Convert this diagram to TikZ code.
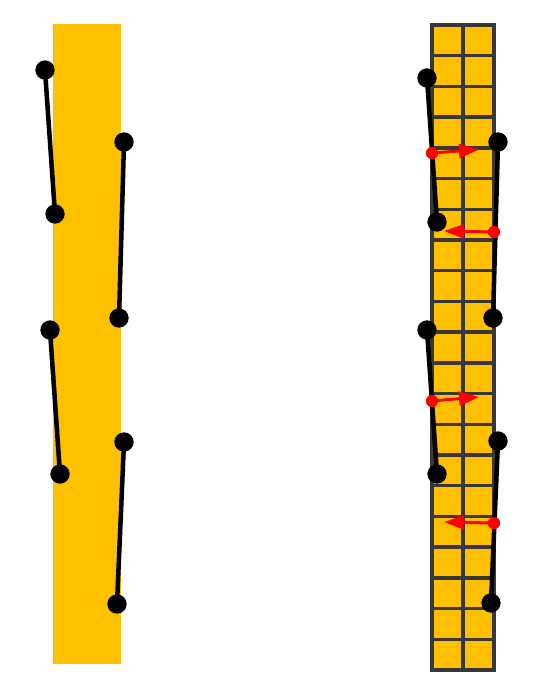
\documentclass[tikz,border=0pt]{standalone}
\usetikzlibrary{arrows.meta}
\definecolor{barorange}{HTML}{FFC000}
\definecolor{gridgray}{HTML}{383838}
\definecolor{arrred}{HTML}{FF0000}
\begin{document}
\begin{tikzpicture}[x=0.75pt,y=-0.75pt,
  bead/.style={circle,fill=black,inner sep=0pt,minimum size=14.5pt},
  rbead/.style={circle,fill=arrred,inner sep=0pt,minimum size=9pt},
  link/.style={line width=3.4pt,black},
  force/.style={line width=2.2pt,arrred,-{Triangle[length=15pt,width=10.5pt]}},
  gridline/.style={line width=2.5pt,gridgray}]
\useasboundingbox (0,0) rectangle (558,690);
% left bar
\fill[barorange] (53,24) rectangle (121,664);
% right gridded bar
\fill[barorange] (432,25) rectangle (494,670);
\foreach \i in {1,...,20} {
  \draw[gridline] (432,25+\i*30.714) -- (494,25+\i*30.714);
}
\draw[gridline] (463,25) -- (463,670);
\draw[gridline] (432,25) rectangle (494,670);
% left beads
\node[bead] (l1a) at (45,70) {};
\node[bead] (l1b) at (55,214) {};
\node[bead] (l2a) at (124,142) {};
\node[bead] (l2b) at (119,318) {};
\node[bead] (l3a) at (50,330) {};
\node[bead] (l3b) at (60,474) {};
\node[bead] (l4a) at (124,442) {};
\node[bead] (l4b) at (117,604) {};
\draw[link] (l1a.center) -- (l1b.center);
\draw[link] (l2a.center) -- (l2b.center);
\draw[link] (l3a.center) -- (l3b.center);
\draw[link] (l4a.center) -- (l4b.center);
% right beads
\coordinate (r1a) at (427,78);
\coordinate (r1b) at (437,222);
\coordinate (r2a) at (498,142);
\coordinate (r2b) at (493,318);
\coordinate (r3a) at (427,330);
\coordinate (r3b) at (437,474);
\coordinate (r4a) at (498,441);
\coordinate (r4b) at (491,603);
\draw[link] (r1a) -- (r1b);
\draw[link] (r2a) -- (r2b);
\draw[link] (r3a) -- (r3b);
\draw[link] (r4a) -- (r4b);
% forces
\node[rbead] (f1) at (432,153) {};
\node[rbead] (f2) at (494,232) {};
\node[rbead] (f3) at (432,401) {};
\node[rbead] (f4) at (494,523) {};
\coordinate (t1) at (479,149.5);
\coordinate (t2) at (444,231);
\coordinate (t3) at (479,397);
\coordinate (t4) at (444,522);
\draw[force] (f1.center) -- (t1);
\draw[force] (f2.center) -- (t2);
\draw[force] (f3.center) -- (t3);
\draw[force] (f4.center) -- (t4);
\node[rbead] at (f1) {};
\node[rbead] at (f2) {};
\node[rbead] at (f3) {};
\node[rbead] at (f4) {};
\foreach \p in {r1a,r1b,r2a,r2b,r3a,r3b,r4a,r4b} {
  \node[bead] at (\p) {};
}
\end{tikzpicture}
\end{document}
